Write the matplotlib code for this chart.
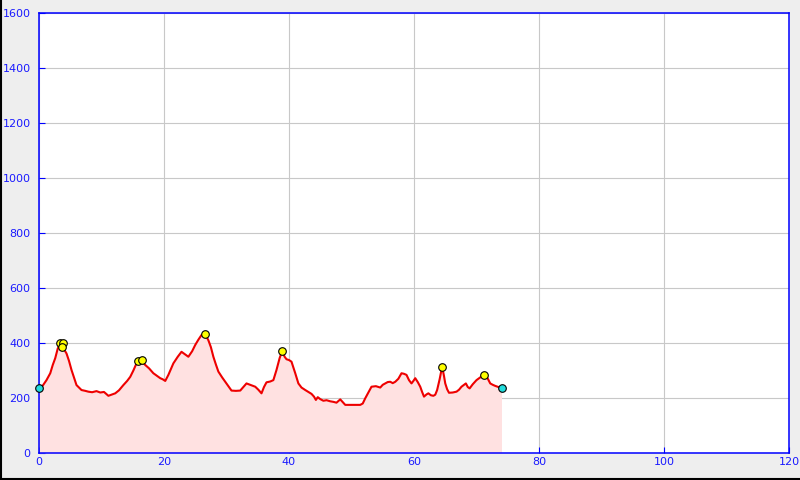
import matplotlib
matplotlib.use("Agg")
import matplotlib.pyplot as plt
from matplotlib.lines import Line2D

# Elevation profile (distance, elevation)
distance = [0.0, 0.6, 1.2, 1.8, 2.2, 2.6, 3.0, 3.4, 3.8, 4.4, 4.8, 5.2, 5.6, 6.0, 6.4, 6.8,
            7.4, 7.9, 8.5, 9.2, 9.8, 10.4, 11.1, 11.6, 12.2, 12.8, 13.5, 14.1, 14.6, 15.1,
            15.6, 16.0, 16.3, 17.0, 17.6, 18.3, 18.9, 19.4, 19.8, 20.2, 20.7, 21.1, 21.5,
            22.2, 22.8, 23.4, 23.9, 24.5, 25.0, 25.5, 26.0, 26.6, 27.1, 27.5, 27.9, 28.3,
            28.7, 29.3, 29.8, 30.3, 30.8, 31.5, 32.2, 32.7, 33.2, 33.9, 34.6, 35.1, 35.6,
            36.0, 36.4, 37.0, 37.5, 38.0, 38.5, 38.9, 39.3, 39.6, 40.0, 40.4, 41.0, 41.5,
            42.0, 42.6, 43.1, 43.6, 44.0, 44.3, 44.6, 45.0, 45.5, 46.0, 46.6, 47.1, 47.6,
            48.2, 48.6, 49.0, 50.0, 51.4, 51.8, 52.2, 52.7, 53.2, 53.9, 54.6, 55.0, 55.4,
            55.8, 56.2, 56.6, 57.0, 57.5, 58.0, 58.4, 58.8, 59.2, 59.6, 59.9, 60.2, 60.6,
            61.0, 61.3, 61.6, 62.0, 62.3, 62.7, 63.1, 63.4, 63.7, 64.1, 64.5, 64.8, 65.0,
            65.3, 65.6, 66.2, 66.8, 67.2, 67.6, 68.0, 68.3, 68.6, 68.9, 69.4, 70.0, 70.6,
            71.2, 71.7, 72.2, 72.6, 73.0, 73.5, 74.0]
elevation = [235, 245, 265, 290, 320, 345, 380, 398, 385, 362, 335, 302, 275, 247, 238, 229,
             226, 223, 221, 225, 220, 222, 208, 212, 217, 228, 247, 262, 277, 300,
             326, 335, 338, 320, 308, 290, 280, 272, 268, 262, 284, 305, 326,
             350, 368, 358, 350, 370, 393, 412, 429, 432, 410, 385, 350, 322,
             296, 275, 259, 243, 227, 226, 227, 240, 253, 247, 241, 230, 217,
             240, 257, 260, 265, 302, 345, 370, 350, 341, 338, 332, 290, 253,
             238, 229, 222, 215, 205, 193, 203, 196, 190, 192, 188, 186, 183,
             195, 185, 175, 175, 175, 180, 199, 220, 241, 243, 238, 248, 253,
             258, 259, 254, 259, 270, 290, 288, 284, 265, 253, 262, 272, 258,
             241, 222, 205, 213, 217, 210, 208, 212, 229, 268, 314, 280, 253,
             232, 219, 220, 223, 230, 241, 248, 253, 240, 235, 250, 265, 275,
             284, 275, 253, 248, 244, 240, 235]

peak_x = [3.3, 3.9, 3.6, 15.9, 16.4, 26.6, 38.9, 64.5, 71.2]
peak_y = [400, 400, 385, 335, 338, 432, 370, 314, 284]
end_x = [0.0, 74.0]
end_y = [235, 235]

x_ticks = [0, 20, 40, 60, 80, 100, 120]
y_ticks = [0, 200, 400, 600, 800, 1000, 1200, 1400, 1600]

fig = plt.figure(figsize=(8, 4.8), dpi=100, facecolor="#eeeeee")
fig.lines.append(Line2D([0.001, 0.001], [0, 1], transform=fig.transFigure,
                        color="black", linewidth=1.5))
fig.lines.append(Line2D([0, 1], [0.002, 0.002], transform=fig.transFigure,
                        color="black", linewidth=1.5))
ax = fig.add_axes([39/800, 27/480, 750/800, 440/480])
ax.set_facecolor("white")

ax.fill_between(distance, elevation, 0, color="#ffe1e1", linewidth=0, zorder=1)
ax.plot(distance, elevation, color="#ee0000", linewidth=1.5, zorder=3)
ax.scatter(peak_x, peak_y, s=30, color="#ffff00", edgecolor="black", linewidth=0.8, zorder=4)
ax.scatter(end_x, end_y, s=30, color="#22dddd", edgecolor="black", linewidth=0.8, zorder=4,
           clip_on=False)

ax.set_xlim(0, 120)
ax.set_ylim(0, 1600)
ax.set_xticks(x_ticks)
ax.set_yticks(y_ticks)
ax.grid(True, color="#c8c8c8", linewidth=0.8, zorder=0)
ax.set_axisbelow(True)
for s in ax.spines.values():
    s.set_color("#0000ff")
    s.set_linewidth(1.1)
ax.tick_params(direction="in", colors="#0000ff", labelcolor="#1a1aff", length=4,
               labelsize=8)
ax.tick_params(axis="x", pad=3)
ax.tick_params(axis="y", pad=6)

fig.savefig("out.png", dpi=100, facecolor=fig.get_facecolor())
